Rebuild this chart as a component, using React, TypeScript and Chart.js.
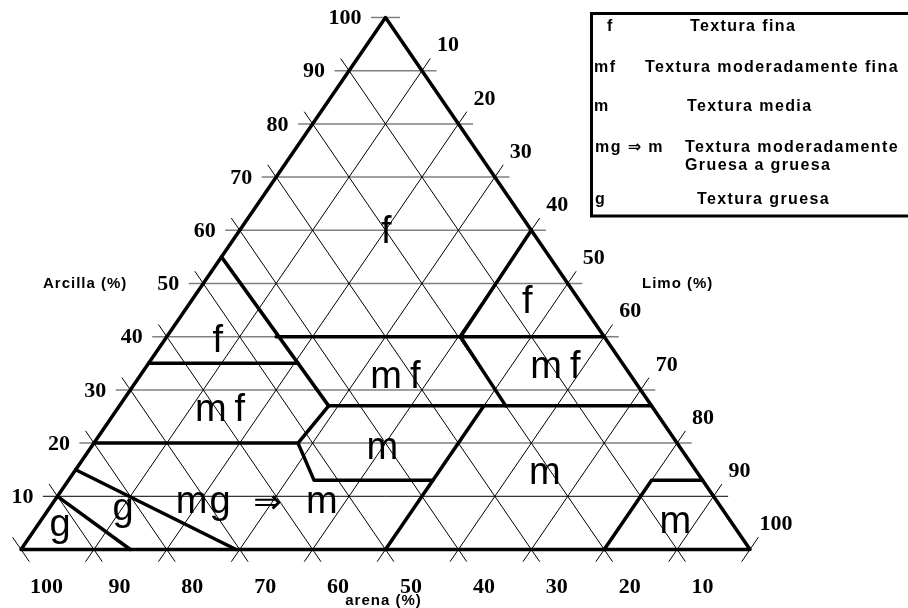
import React, { useEffect, useRef } from 'react';
import { Chart, registerables } from 'chart.js';

Chart.register(...registerables);

// Percent ticks on the three sides of the texture triangle
const clayTicks = [10, 20, 30, 40, 50, 60, 70, 80, 90, 100]; // Arcilla (%)
const sandTicks = [100, 90, 80, 70, 60, 50, 40, 30, 20, 10]; // arena (%)
const siltTicks = [10, 20, 30, 40, 50, 60, 70, 80, 90, 100]; // Limo (%)

// Points are [arcilla %, limo %]; arena % = 100 - arcilla - limo
const outline: number[][] = [[0, 0], [0, 100], [100, 0], [0, 0]];
const sandyClayEdge: number[][] = [[55, 0], [27, 28.7]];
const clay35Line: number[][] = [[35, 0], [35, 20.5]];
const clay40Line: number[][] = [[40, 15], [40, 60]];
const silt40Line: number[][] = [[60, 40], [40, 40.3], [27, 53]];
const clay27Line: number[][] = [[27, 28.7], [27, 73]];
const loamLeftEdge: number[][] = [[27, 28.7], [20, 28], [13, 33.7], [13, 50]];
const clay20Line: number[][] = [[20, 0], [20, 28]];
const silt50Line: number[][] = [[27, 50], [0, 50]];
const sandyLoamEdge: number[][] = [[15, 0], [0, 29.5]];
const sandEdge: number[][] = [[10, 0], [0, 15]];
const siltEdge: number[][] = [[0, 80], [13, 80], [13, 87]];

const boundaries = [
  outline, sandyClayEdge, clay35Line, clay40Line, silt40Line, clay27Line,
  loamLeftEdge, clay20Line, silt50Line, sandyLoamEdge, sandEdge, siltEdge,
];

// Region labels: text with [arcilla %, limo %] at the text baseline centre
const regionTexts = ['f', 'f', 'f', 'mf', 'mf', 'mf', 'm', 'm', 'm', 'g', 'g', 'mg', '\u21D2', 'm'];
const regionClay = [57.6, 44.5, 37.2, 30.3, 32.2, 24.2, 17.1, 12.3, 3.1, 2.5, 5.6, 6.8, 6.8, 6.8];
const regionSilt = [21.3, 47.2, 8.4, 36.2, 57.2, 15.2, 41.0, 65.7, 88.2, 4.1, 11.2, 21.6, 30.4, 37.85];

// Legend
const legendCodes = ['f', 'mf', 'm', 'mg \u21D2 m', 'g'];
const legendTexts = [
  ['Textura fina'],
  ['Textura moderadamente fina'],
  ['Textura media'],
  ['Textura moderadamente', 'Gruesa a gruesa'],
  ['Textura gruesa'],
];

const EXT_DIAG = 2.3;
const EXT_HOR = 2;

export default function App() {
  const ref = useRef<HTMLCanvasElement>(null);

  useEffect(() => {
    if (!ref.current) return;
    const P = (clay: number, silt: number) => ({ x: silt + clay / 2, y: clay });
    const datasets: any[] = [];
    const addLine = (pts: { x: number; y: number }[], color: string, width: number, order: number, cap: string) => {
      datasets.push({
        data: pts,
        showLine: true,
        borderColor: color,
        backgroundColor: color,
        borderWidth: width,
        pointRadius: 0,
        pointHoverRadius: 0,
        fill: false,
        tension: 0,
        order,
        borderCapStyle: cap,
        borderJoinStyle: cap === 'round' ? 'round' : 'miter',
      });
    };

    boundaries.forEach((b) => addLine(b.map(([c, s]) => P(c, s)), '#000000', 3.5, 0, 'round'));
    clayTicks.forEach((c) =>
      addLine([P(c, -EXT_HOR), P(c, 100 - c + EXT_HOR)], c === 10 ? '#000000' : '#808080', c === 10 ? 1 : 1.5, 2, 'butt')
    );
    sandTicks.forEach((s) =>
      addLine([P(100 - s + EXT_DIAG, -EXT_DIAG), P(-EXT_DIAG, 100 - s + EXT_DIAG)], '#000000', 1, 1, 'butt')
    );
    siltTicks.forEach((t) => addLine([P(100 - t + EXT_DIAG, t), P(-EXT_DIAG, t)], '#000000', 1, 1, 'butt'));

    const textPlugin = {
      id: 'ternaryTexts',
      afterDatasetsDraw(chart: any) {
        const ctx = chart.ctx as CanvasRenderingContext2D;
        const xs = chart.scales.x;
        const ys = chart.scales.y;
        const px = (clay: number, silt: number) => [xs.getPixelForValue(silt + clay / 2), ys.getPixelForValue(clay)];
        const setSpacing = (v: string) => {
          (ctx as any).letterSpacing = v;
        };
        ctx.save();
        ctx.fillStyle = '#000';

        // Tick numbers
        ctx.font = 'bold 22px "Liberation Serif", "Times New Roman", serif';
        setSpacing('0px');
        ctx.textBaseline = 'middle';
        ctx.textAlign = 'right';
        clayTicks.forEach((c) => {
          const [x, y] = px(c, 0);
          ctx.fillText(String(c), x - 24, y + 1);
        });
        ctx.textAlign = 'center';
        sandTicks.forEach((s) => {
          const [x, y] = px(-7, 100 - s + 7);
          ctx.fillText(String(s), x, y + 1);
        });
        siltTicks.forEach((t) => {
          const [x, y] = px(100 - t, t);
          ctx.fillText(String(t), x + 26, y - 25);
        });

        // Axis titles
        ctx.font = 'bold 15px "Liberation Sans", Arial, sans-serif';
        setSpacing('1px');
        ctx.textAlign = 'left';
        const [, y50] = px(50, 0);
        ctx.fillText('Arcilla (%)', 43, y50);
        ctx.fillText('Limo (%)', 642, y50);
        ctx.textBaseline = 'alphabetic';
        const [xa] = px(0, 50);
        ctx.textAlign = 'center';
        ctx.fillText('arena (%)', xa - 2, 605);

        // Region labels
        ctx.textBaseline = 'alphabetic';
        ctx.textAlign = 'center';
        regionTexts.forEach((t, i) => {
          const [x, y] = px(regionClay[i], regionSilt[i]);
          if (t === '\u21D2') {
            ctx.font = '34px "DejaVu Sans", "Liberation Sans", sans-serif';
            setSpacing('0px');
            ctx.fillText(t, x, y);
          } else {
            ctx.font = '38px "Liberation Sans", Arial, sans-serif';
            const sp = t === 'mf' ? 8 : t === 'mg' ? 2 : 0;
            setSpacing(sp + 'px');
            ctx.fillText(t, x + sp / 2, y);
          }
        });

        // Legend box
        setSpacing('0px');
        ctx.lineWidth = 3;
        ctx.strokeStyle = '#000';
        ctx.strokeRect(591.5, 13.5, 340, 202.5);
        ctx.font = 'bold 16px "Liberation Sans", "DejaVu Sans", Arial, sans-serif';
        setSpacing('1.4px');
        ctx.textAlign = 'left';
        ctx.textBaseline = 'middle';
        const rowY = [27, 68, 107, 148, 200];
        const codeX = [607, 594, 594, 595, 595];
        const textX = [690, 645, 687, 685, 697];
        legendCodes.forEach((code, i) => {
          ctx.fillText(code, codeX[i], rowY[i]);
          legendTexts[i].forEach((line, j) => {
            ctx.fillText(line, textX[i], rowY[i] + j * 18);
          });
        });
        ctx.restore();
      },
    };

    const chart = new Chart(ref.current, {
      type: 'scatter',
      data: { datasets },
      options: {
        animation: false,
        responsive: false,
        events: [],
        layout: { padding: 0 },
        plugins: { legend: { display: false }, tooltip: { enabled: false } },
        scales: {
          x: { type: 'linear', display: false, min: -2.8807, max: 121.673 },
          y: { type: 'linear', display: false, min: -10.997, max: 103.289 },
        },
      },
      plugins: [textPlugin],
    } as any);
    return () => chart.destroy();
  }, []);

  return (
    <div style={{ position: 'fixed', left: 0, top: 0, width: 908, height: 608, background: '#fff' }}>
      <canvas ref={ref} width={908} height={608} style={{ display: 'block', width: 908, height: 608 }} />
    </div>
  );
}
